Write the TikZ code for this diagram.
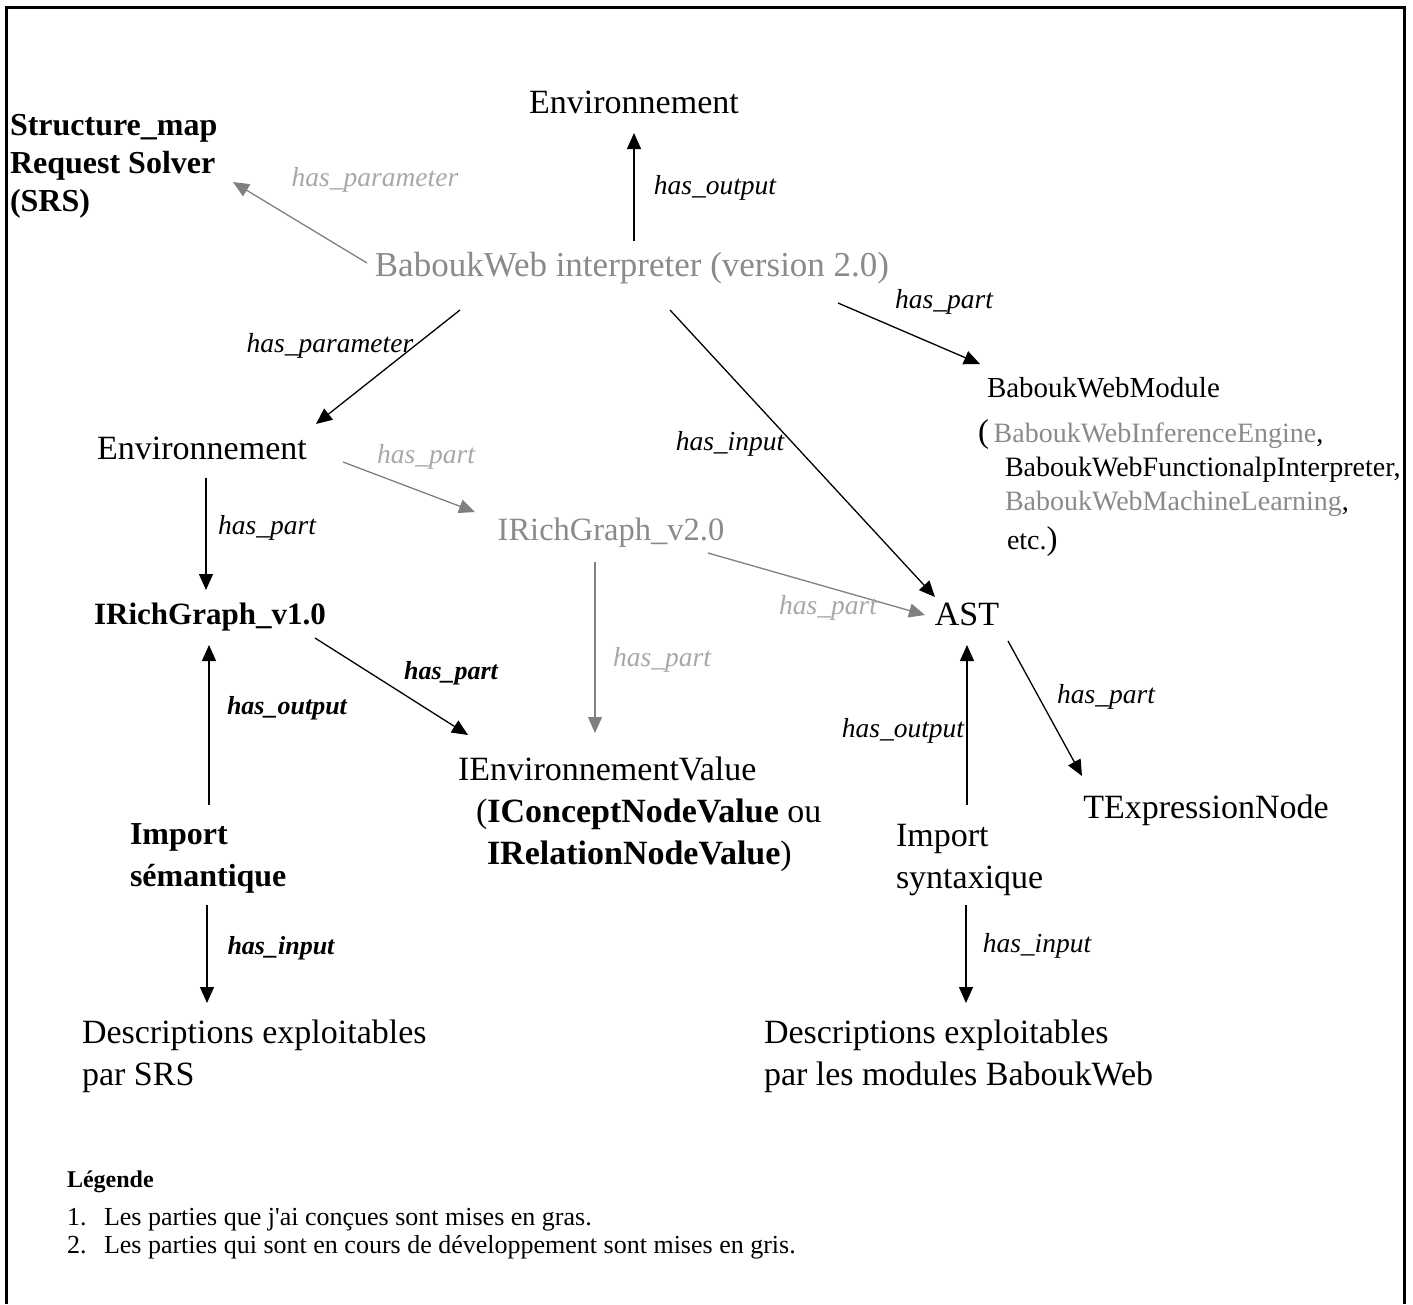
\documentclass[tikz,border=0pt]{standalone}
\usepackage{fontspec}
\setmainfont{Liberation Serif}
\newfontfamily\legendfont{Liberation Serif}
\usetikzlibrary{arrows.meta}

\definecolor{devgray}{RGB}{138,138,138}
\definecolor{devlabel}{RGB}{168,168,168}
\definecolor{devline}{RGB}{128,128,128}

\tikzset{
  every node/.style={inner sep=0pt, outer sep=0pt},
  concept/.style={font=\fontsize{34}{42}\selectfont, text=black},
  conceptbold/.style={font=\bfseries\fontsize{32}{42}\selectfont, text=black},
  dev/.style={text=devgray},
  rel/.style={font=\itshape\fontsize{27.5}{30}\selectfont, text=black},
  relbold/.style={font=\bfseries\itshape\fontsize{26}{30}\selectfont, text=black},
  reldev/.style={rel, text=devlabel},
  link/.style={line width=1.3pt, draw=black, -{Triangle[length=16pt,width=14pt]}},
  linkdev/.style={link, draw=devline, fill=devline},
  legendtext/.style={font=\legendfont\fontsize{26}{28}\selectfont, anchor=base west},
}

\begin{document}
\begin{tikzpicture}[x=1pt, y=-1pt]
  \useasboundingbox (0,0) rectangle (1413,1304);
  % page frame (open at the bottom)
  \draw[line width=3pt] (6,1304) -- (6,7) -- (1404,7) -- (1404,1304);

  % concepts
  \node[concept] (envOut) at (634,102) {Environnement};
  \node[conceptbold, anchor=north west, align=left, font=\bfseries\fontsize{32}{38}\selectfont] (srs) at (10,114)
    {Structure\_map\\Request Solver\\(SRS)};
  \node[concept, dev, font=\fontsize{35}{42}\selectfont] (interp) at (632,268) {BaboukWeb interpreter (version 2.0)};
  \node[concept, anchor=west, font=\fontsize{29}{34}\selectfont] (module) at (987,388) {BaboukWebModule};
  \node[anchor=north west, align=left, font=\fontsize{28}{34}\selectfont] (variants) at (978,420)
    {{\fontsize{33}{34}\selectfont(}\,\textcolor{devgray}{BaboukWebInferenceEngine},\\
     \hspace*{27pt}BaboukWebFunctionalpInterpreter,\\
     \hspace*{27pt}\textcolor{devgray}{BaboukWebMachineLearning},\\[5pt]
     \hspace*{29pt}etc.{\fontsize{33}{34}\selectfont)}};
  \node[concept] (envIn) at (202,448) {Environnement};
  \node[concept, dev, font=\fontsize{32.5}{40}\selectfont] (rgTwo) at (611,533) {IRichGraph\_v2.0};
  \node[conceptbold, font=\bfseries\fontsize{31}{40}\selectfont] (rgOne) at (210,617) {IRichGraph\_v1.0};
  \node[concept] (ast) at (967,614) {AST};
  \node[concept, anchor=north west, align=left] (envValue) at (458,757)
    {IEnvironnementValue\\
     \hspace*{18pt}(\textbf{IConceptNodeValue} ou\\
     \hspace*{29pt}\textbf{IRelationNodeValue})};
  \node[concept] (texpr) at (1206,810) {TExpressionNode};
  \node[conceptbold, anchor=north west, align=left] (impSem) at (130,824) {Import\\sémantique};
  \node[concept, anchor=north west, align=left] (impSyn) at (896,824) {Import\\syntaxique};
  \node[concept, anchor=north west, align=left] (descSrs) at (82,1020) {Descriptions exploitables\\par SRS};
  \node[concept, anchor=north west, align=left] (descBw) at (764,1020) {Descriptions exploitables\\par les modules BaboukWeb};

  % relations
  \draw[link] ([shift={(2,-27)}]interp.center) -- ([shift={(0,31)}]envOut.center);
  \draw[linkdev] ([shift={(-265,-5)}]interp.center) -- ([shift={(223,68)}]srs.north west);
  \draw[link] ([shift={(206,35)}]interp.center) -- ([shift={(-7,-24)}]module.west);
  \draw[link] ([shift={(-172,42)}]interp.center) -- ([shift={(114,-24)}]envIn.center);
  \draw[link] ([shift={(38,42)}]interp.center) -- ([shift={(-32,-17)}]ast.center);
  \draw[link] ([shift={(4,30)}]envIn.center) -- ([shift={(-4,-27)}]rgOne.center);
  \draw[linkdev] ([shift={(141,14)}]envIn.center) -- ([shift={(-136,-21)}]rgTwo.center);
  \draw[linkdev] ([shift={(97,20)}]rgTwo.center) -- ([shift={(-42,1)}]ast.center);
  \draw[linkdev] ([shift={(-16,29)}]rgTwo.center) -- ([shift={(137,-24)}]envValue.north west);
  \draw[link] ([shift={(105,21)}]rgOne.center) -- ([shift={(10,-22)}]envValue.north west);
  \draw[link] ([shift={(79,-19)}]impSem.north west) -- ([shift={(-1,28)}]rgOne.center);
  \draw[link] ([shift={(77,81)}]impSem.north west) -- ([shift={(125,-17)}]descSrs.north west);
  \draw[link] ([shift={(71,-19)}]impSyn.north west) -- ([shift={(0,31)}]ast.center);
  \draw[link] ([shift={(41,27)}]ast.center) -- ([shift={(-124,-34)}]texpr.center);
  \draw[link] ([shift={(70,81)}]impSyn.north west) -- ([shift={(202,-17)}]descBw.north west);

  % relation labels
  \node[rel] (lblOut) at (715,188) {has\_output};
  \node[reldev] (lblParamDev) at (375,180) {has\_parameter};
  \node[rel] (lblModule) at (944,302) {has\_part};
  \node[rel] (lblParam) at (330,346) {has\_parameter};
  \node[rel] (lblInput) at (730,444) {has\_input};
  \node[rel] (lblEnvPart) at (267,528) {has\_part};
  \node[reldev] (lblRgTwo) at (426,457) {has\_part};
  \node[reldev] (lblAstDev) at (828,608) {has\_part};
  \node[reldev] (lblValueDev) at (662,660) {has\_part};
  \node[relbold] (lblValue) at (451,673) {has\_part};
  \node[relbold] (lblSemOut) at (287,708) {has\_output};
  \node[rel] (lblSynOut) at (903,731) {has\_output};
  \node[rel] (lblExpr) at (1106,697) {has\_part};
  \node[relbold] (lblSemIn) at (281,948) {has\_input};
  \node[rel] (lblSynIn) at (1037,946) {has\_input};

  % legend
  \node[legendtext, font=\legendfont\bfseries\fontsize{24}{28}\selectfont] (legendTitle) at (67,1187) {Légende};
  \node[legendtext] (itemOneNum) at (67,1225) {1.};
  \node[legendtext] (itemOne) at (104,1225) {Les parties que j'ai conçues sont mises en gras.};
  \node[legendtext] (itemTwoNum) at (67,1253) {2.};
  \node[legendtext] (itemTwo) at (104,1253) {Les parties qui sont en cours de développement sont mises en gris.};
\end{tikzpicture}
\end{document}
